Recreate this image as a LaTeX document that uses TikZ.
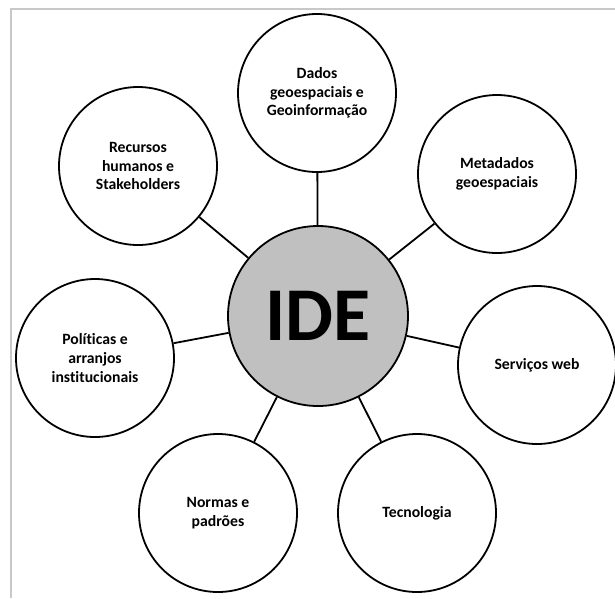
\documentclass[tikz,border=0pt]{standalone}
\usepackage{fontspec}
\setmainfont[Ligatures=NoCommon]{Carlito}
\usetikzlibrary{backgrounds}
\definecolor{framegray}{RGB}{200,200,200}
\definecolor{hubgray}{RGB}{192,192,192}
\begin{document}
\begin{tikzpicture}[x=1pt,y=-1pt,
  topic/.style={circle,draw=black,line width=1.8pt,fill=white,inner sep=0pt,
    minimum size=158pt,align=center,font=\bfseries\fontsize{15.7}{18.6}\selectfont},
  hub/.style={circle,draw=black,line width=1.8pt,fill=hubgray,inner sep=0pt,
    minimum size=180pt,font=\bfseries\fontsize{76}{80}\selectfont},
  link/.style={draw=black,line width=1.8pt}]
\useasboundingbox (0,0) rectangle (615,598);
% page frame (left and top edges only)
\draw[framegray,line width=2pt] (11,598) -- (11,9) -- (615,9);

\node[hub] (ide) at (318,316) {IDE};
\node[topic] (dados) at (317,93) {Dados\\geoespaciais e\\Geoinformação};
\node[topic] (meta) at (497,174) {Metadados\\geoespaciais};
\node[topic] (serv) at (537,365) {Serviços web};
\node[topic] (tec) at (417,513) {Tecnologia};
\node[topic] (normas) at (218,513) {Normas e\\padrões};
\node[topic] (pol) at (95,358) {Políticas e\\arranjos\\institucionais};
\node[topic] (rec) at (138,166) {Recursos\\humanos e\\Stakeholders};

\begin{scope}[on background layer]
  \foreach \n in {dados,meta,serv,tec,normas,pol,rec}
    \draw[link] (ide) -- (\n);
\end{scope}
\end{tikzpicture}
\end{document}
